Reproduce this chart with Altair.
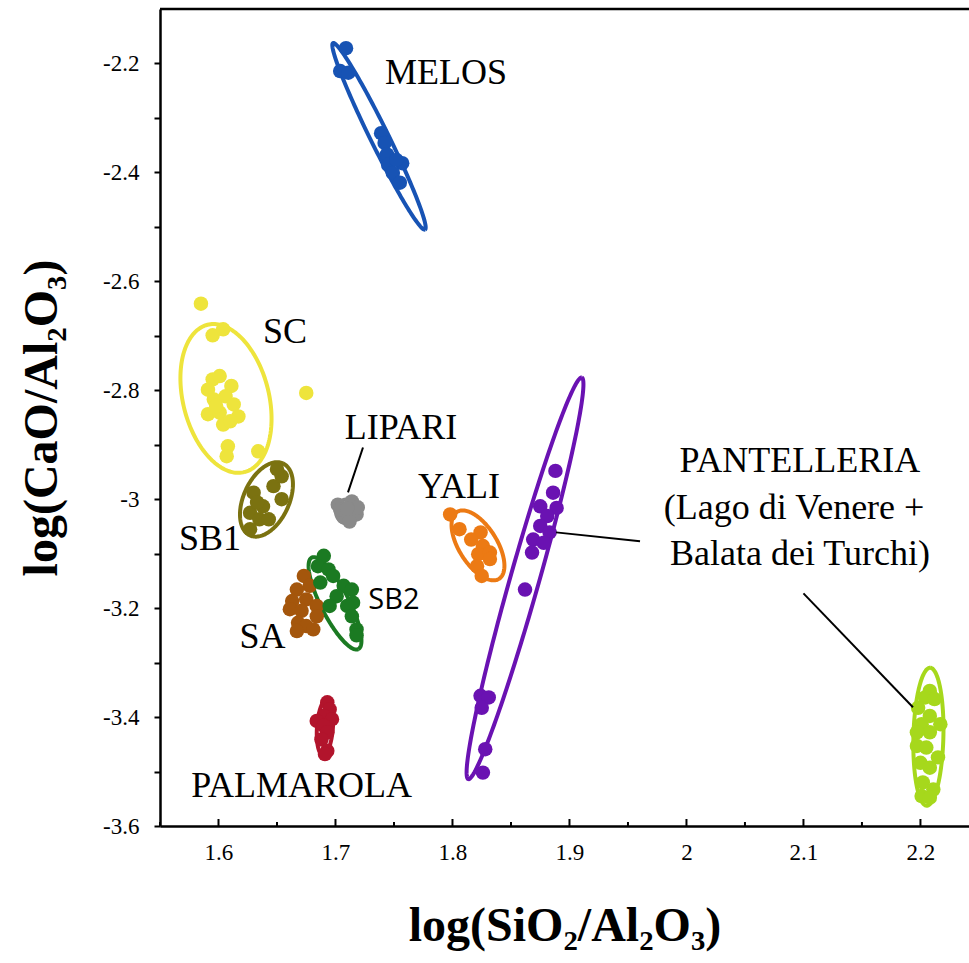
import altair as alt
import numpy as np
import pandas as pd

# ---------------------------------------------------------------------------
# Obsidian compositions: x = log(SiO2/Al2O3), y = log(CaO/Al2O3)
# ---------------------------------------------------------------------------
melos_x = [1.709, 1.704, 1.711, 1.739, 1.742, 1.744, 1.757, 1.745, 1.749, 1.755, 1.752]
melos_y = [-2.172, -2.214, -2.217, -2.328, -2.346, -2.367, -2.383, -2.386, -2.401, -2.419, -2.377]

sc_x = [1.585, 1.595, 1.604, 1.595, 1.601, 1.591, 1.611, 1.596, 1.606, 1.613,
        1.591, 1.601, 1.617, 1.604, 1.610, 1.598, 1.608, 1.607, 1.634, 1.675]
sc_y = [-2.641, -2.699, -2.688, -2.780, -2.774, -2.799, -2.792, -2.817, -2.811, -2.826,
        -2.844, -2.841, -2.848, -2.863, -2.857, -2.829, -2.903, -2.921, -2.912, -2.805]

sb1_x = [1.630, 1.627, 1.635, 1.647, 1.654, 1.654, 1.638, 1.650, 1.627, 1.643, 1.633]
sb1_y = [-2.988, -3.025, -3.037, -2.976, -2.958, -3.000, -3.013, -2.945, -3.055, -3.037, -3.006]

lipari_x = [1.702, 1.714, 1.707, 1.718, 1.704, 1.712, 1.719, 1.710]
lipari_y = [-3.010, -3.004, -3.033, -3.028, -3.019, -3.041, -3.015, -3.017]

yali_x = [1.798, 1.806, 1.824, 1.826, 1.822, 1.832, 1.821, 1.825, 1.832, 1.816]
yali_y = [-3.028, -3.055, -3.061, -3.086, -3.101, -3.098, -3.123, -3.141, -3.110, -3.074]

lago_x = [1.888, 1.886, 1.875, 1.889, 1.881, 1.875, 1.883, 1.869, 1.878, 1.868,
          1.862, 1.824, 1.831, 1.825, 1.828, 1.826]
lago_y = [-2.948, -2.988, -3.013, -3.016, -3.031, -3.049, -3.061, -3.074, -3.080, -3.098,
          -3.166, -3.361, -3.364, -3.383, -3.459, -3.502]

sa_x = [1.673, 1.678, 1.667, 1.663, 1.675, 1.684, 1.661, 1.671, 1.684, 1.668, 1.675, 1.667, 1.681]
sa_y = [-3.141, -3.159, -3.166, -3.187, -3.184, -3.196, -3.202, -3.205, -3.215, -3.227,
        -3.233, -3.242, -3.239]

sb2_x = [1.690, 1.685, 1.694, 1.687, 1.698, 1.707, 1.714, 1.701, 1.715, 1.710, 1.695, 1.714, 1.718, 1.718]
sb2_y = [-3.104, -3.123, -3.129, -3.153, -3.141, -3.159, -3.166, -3.178, -3.190, -3.196,
         -3.196, -3.215, -3.239, -3.250]

palm_x = [1.693, 1.695, 1.690, 1.697, 1.684, 1.690, 1.693, 1.688, 1.693, 1.691]
palm_y = [-3.373, -3.386, -3.398, -3.404, -3.407, -3.416, -3.428, -3.441, -3.462, -3.468]

balata_x = [2.208, 2.204, 2.212, 2.198, 2.208, 2.217, 2.201, 2.208, 2.197, 2.197,
            2.205, 2.215, 2.200, 2.208, 2.202, 2.211, 2.201, 2.208]
balata_y = [-3.352, -3.364, -3.367, -3.383, -3.398, -3.413, -3.413, -3.428, -3.428, -3.453,
            -3.456, -3.474, -3.484, -3.493, -3.520, -3.533, -3.545, -3.548]

groups = ["MELOS", "SC", "SB1", "LIPARI", "YALI", "Lago di Venere",
          "SA", "SB2", "PALMAROLA", "Balata dei Turchi"]
colors = ["#1753b4", "#eee43c", "#7b7210", "#8a8a8a", "#ec7a14", "#6a12b2",
          "#a4560c", "#1b7a22", "#b2142c", "#a6d81c"]
series = [(melos_x, melos_y), (sc_x, sc_y), (sb1_x, sb1_y), (lipari_x, lipari_y),
          (yali_x, yali_y), (lago_x, lago_y), (sa_x, sa_y), (sb2_x, sb2_y),
          (palm_x, palm_y), (balata_x, balata_y)]

# Confidence ellipses: centre and two conjugate semi-axes (data units)
ell_group = ["MELOS", "SC", "SB1", "LIPARI", "YALI", "Lago di Venere",
             "SB2", "PALMAROLA", "Balata dei Turchi"]
ell_cx = [1.7372, 1.6064, 1.6410, 1.7098, 1.8218, 1.8620, 1.6996, 1.6910, 2.2068]
ell_cy = [-2.3338, -2.8150, -3.0004, -3.0224, -3.0848, -3.1453, -3.1912, -3.4187, -3.4361]
ell_px = [0.0393, 0.0158, 0.0141, 0.0000, 0.0179, 0.0485, 0.0199, 0.0017, 0.0015]
ell_py = [-0.1712, -0.1352, 0.0661, 0.0220, -0.0615, 0.3686, -0.0840, 0.0514, 0.1266]
ell_qx = [-0.0069, -0.0356, 0.0177, 0.0094, -0.0138, 0.0119, -0.0107, 0.0068, 0.0128]
ell_qy = [-0.0073, -0.0193, -0.0174, 0.0000, -0.0185, -0.0072, -0.0116, -0.0009, -0.0007]

# Group labels
lab_text = ["MELOS", "SC", "LIPARI", "YALI", "SB1", "SA", "PALMAROLA",
            "PANTELLERIA", "(Lago di Venere +", "Balata dei Turchi)"]
lab_x = [1.7944, 1.6568, 1.7560, 1.8056, 1.5927, 1.6376, 1.6711, 2.0970, 2.0920, 2.0970]
lab_y = [-2.2169, -2.6939, -2.8701, -2.9783, -3.0738, -3.2536, -3.5270, -2.9301, -3.0169, -3.1013]
sb2_label = ["SB2"]
sb2_lab_x = [1.7500]
sb2_lab_y = [-3.1857]

# Leader lines from labels to clusters
lead_x1 = [1.7235, 1.8885, 2.1000]
lead_y1 = [-2.9050, -3.0609, -3.1728]
lead_x2 = [1.7107, 1.9603, 2.1936]
lead_y2 = [-2.9875, -3.0774, -3.3820]

x_major = [1.6, 1.7, 1.8, 1.9, 2.0, 2.1, 2.2]
x_minor = [1.55, 1.65, 1.75, 1.85, 1.95, 2.05, 2.15]
y_ticks = [-3.6, -3.5, -3.4, -3.3, -3.2, -3.1, -3.0, -2.9, -2.8, -2.7,
           -2.6, -2.5, -2.4, -2.3, -2.2]

X_DOMAIN = [1.55, 2.2415]
Y_DOMAIN = [-3.6, -2.1]
W, H = 809, 817
SERIF = "Liberation Serif"

# ---------------------------------------------------------------------------
points = pd.concat(
    [pd.DataFrame({"group": g, "x": sx, "y": sy}) for g, (sx, sy) in zip(groups, series)],
    ignore_index=True,
)

t = np.linspace(0, 2 * np.pi, 181)
ell_rows = []
for g, cx, cy, px, py, qx, qy in zip(ell_group, ell_cx, ell_cy, ell_px, ell_py, ell_qx, ell_qy):
    ell_rows.append(pd.DataFrame({
        "group": g,
        "i": np.arange(len(t)),
        "x": cx + np.cos(t) * px + np.sin(t) * qx,
        "y": cy + np.cos(t) * py + np.sin(t) * qy,
    }))
ellipses = pd.concat(ell_rows, ignore_index=True)

labels = pd.DataFrame({"text": lab_text, "x": lab_x, "y": lab_y})
labels_sb2 = pd.DataFrame({"text": sb2_label, "x": sb2_lab_x, "y": sb2_lab_y})
leaders = pd.DataFrame({"x": lead_x1, "y": lead_y1, "x2": lead_x2, "y2": lead_y2})
ticks_major = pd.DataFrame({"v": x_major})
ticks_minor = pd.DataFrame({"v": x_minor})

xscale = alt.Scale(domain=X_DOMAIN, nice=False, zero=False)
yscale = alt.Scale(domain=Y_DOMAIN, nice=False, zero=False)
color = alt.Color("group:N", scale=alt.Scale(domain=groups, range=colors), legend=None)

x_axis = alt.Axis(
    values=x_major, ticks=False, grid=False,
    domainColor="black", domainWidth=2.5,
    labelFont=SERIF, labelFontSize=23, labelColor="black", labelPadding=15,
    labelExpr="toString(datum.value)",
    title="log(SiO₂/Al₂O₃)", titleFont=SERIF, titleFontSize=48,
    titleFontWeight="bold", titleColor="black", titlePadding=38,
)
y_axis = alt.Axis(
    values=y_ticks, ticks=True, tickSize=6, tickWidth=2, tickColor="black", grid=False,
    domainColor="black", domainWidth=2.5,
    labelFont=SERIF, labelFontSize=23, labelColor="black", labelPadding=15,
    labelExpr="round(datum.value * 10) % 2 == 0 ? toString(datum.value) : ''",
    title="log(CaO/Al₂O₃)", titleFont=SERIF, titleFontSize=48,
    titleFontWeight="bold", titleColor="black", titlePadding=36,
)

ell_layer = alt.Chart(ellipses).mark_line(strokeWidth=4).encode(
    x=alt.X("x:Q", scale=xscale, axis=x_axis),
    y=alt.Y("y:Q", scale=yscale, axis=y_axis),
    color=color,
    detail="group:N",
    order="i:Q",
)

pt_layer = alt.Chart(points).mark_circle(size=210, opacity=1).encode(
    x="x:Q", y="y:Q", color=color,
)

top_border = alt.Chart(pd.DataFrame({"v": [Y_DOMAIN[1]]})).mark_rule(
    color="black", strokeWidth=2.5
).encode(y="v:Q")

major_ticks = alt.Chart(ticks_major).mark_rule(color="black", strokeWidth=2).encode(
    x="v:Q", y=alt.value(H), y2=alt.value(H - 7)
)
minor_ticks = alt.Chart(ticks_minor).mark_rule(color="black", strokeWidth=2).encode(
    x="v:Q", y=alt.value(H), y2=alt.value(H - 4)
)

leader_layer = alt.Chart(leaders).mark_rule(color="black", strokeWidth=2).encode(
    x="x:Q", y="y:Q", x2="x2:Q", y2="y2:Q"
)

text_layer = alt.Chart(labels).mark_text(
    font=SERIF, fontSize=36, color="black", align="center", baseline="middle"
).encode(x="x:Q", y="y:Q", text="text:N")

text_sb2 = alt.Chart(labels_sb2).mark_text(
    font="Open Sans", fontSize=29, color="black", align="center", baseline="middle"
).encode(x="x:Q", y="y:Q", text="text:N")

chart = alt.layer(
    ell_layer, pt_layer, top_border, major_ticks, minor_ticks,
    leader_layer, text_layer, text_sb2,
).properties(
    width=W, height=H,
    padding={"left": 160, "top": 9, "right": 0, "bottom": 137},
    autosize=alt.AutoSizeParams(type="none"),
    background="white",
).configure_view(stroke=None)

chart.save("out.html", embed_options={"renderer": "svg", "actions": False})
